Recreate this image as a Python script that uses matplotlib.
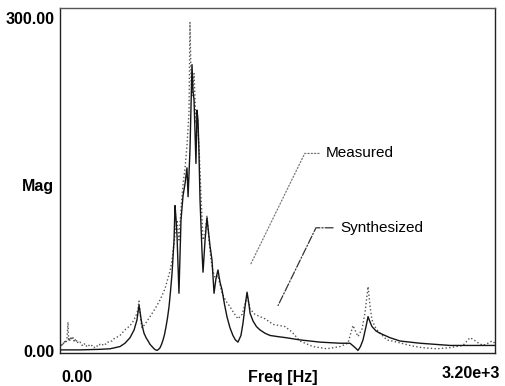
import matplotlib
matplotlib.use("Agg")
import matplotlib.pyplot as plt

plt.rcParams["font.family"] = ["Liberation Sans", "DejaVu Sans"]

# Measured FRF (Hz, magnitude)
meas_freq = [0, 7, 15, 22, 29, 37, 44, 51, 59, 63, 66, 74, 81, 88, 96, 103, 110, 118,
             125, 132, 147, 162, 177, 191, 206, 221, 235, 250, 265, 280, 294, 309,
             324, 338, 353, 368, 383, 397, 412, 427, 441, 463, 486, 508, 530, 552,
             566, 574, 581, 588, 596, 603, 625, 662, 699, 736, 772, 809, 824, 846,
             861, 875, 890, 905, 920, 934, 949, 956, 964, 971, 986, 1000, 1008, 1022,
             1037, 1052, 1067, 1081, 1096, 1111, 1125, 1140, 1162, 1192, 1221, 1250,
             1280, 1309, 1339, 1361, 1376, 1398, 1434, 1471, 1508, 1567, 1655, 1707,
             1765, 1861, 1964, 2060, 2118, 2155, 2177, 2192, 2222, 2244, 2266, 2281,
             2295, 2325, 2354, 2405, 2479, 2575, 2663, 2773, 2869, 2964, 3016, 3045,
             3067, 3111, 3148, 3178, 3200]
meas_mag = [3, 6, 4, 8, 6, 10, 7, 11, 26, 9, 12, 9, 13, 10, 12, 9, 11, 8,
            10, 7, 8, 5, 7, 4, 6, 4, 5, 3, 5, 4, 6, 5,
            7, 6, 8, 9, 9, 11, 12, 13, 14, 17, 20, 22, 25, 30,
            34, 38, 45, 36, 26, 21, 24, 31, 38, 46, 56, 72, 82, 105,
            118, 100, 128, 150, 165, 185, 215, 296, 245, 230, 250, 205, 215, 185,
            140, 100, 105, 122, 100, 82, 72, 66, 68, 52, 45, 40,
            34, 29, 33, 42, 50, 38, 33, 31, 29, 24, 22, 17,
            9, 4, 2, 4, 7, 23, 17, 13, 20, 35, 58, 40,
            28, 20, 16, 10, 8, 5, 3, 2, 3, 5, 12, 10,
            8, 5, 7, 9, 7]

# Synthesized FRF (Hz, magnitude)
syn_freq = [0, 147, 294, 368, 405, 441, 478, 515, 545, 566, 581, 588, 596, 603, 610,
            618, 633, 648, 662, 677, 692, 700, 714, 725, 736, 747, 758, 769, 780,
            791, 802, 813, 824, 839, 846, 853, 861, 875, 890,
            905, 920, 934, 942, 956, 971, 978, 986, 1000, 1008, 1015, 1022, 1030,
            1044, 1052, 1067, 1081, 1103, 1118, 1133, 1147, 1162, 1177, 1192, 1210,
            1228, 1250, 1272, 1290, 1309, 1331, 1346, 1361, 1376, 1390, 1398, 1420,
            1445, 1471, 1508, 1545, 1600, 1662, 1765, 1913, 2060, 2133, 2162, 2180,
            2192, 2210, 2229, 2251, 2266, 2281, 2295, 2325, 2354, 2427, 2501, 2648,
            2869, 3200]
syn_mag = [1, 1, 1.5, 2, 3, 4, 7, 12, 19, 28, 41, 36, 29, 24, 20,
           16, 12, 9, 6, 4, 2, 1.2, 0.5, 1.5, 3, 6, 10, 15, 22,
           30, 40, 54, 70, 100, 131, 120, 103, 52, 118,
           140, 151, 165, 139, 181, 258, 235, 226, 169, 217, 208, 180, 136,
           91, 71, 100, 120, 95, 82, 52, 65, 73, 62, 55, 42,
           31, 21, 14, 10, 8, 14, 25, 40, 53, 42, 34, 27,
           22, 19, 16, 14, 13, 12, 10, 8, 7, 7, 4, 2,
           0.5, 4, 10, 22, 31, 26, 22, 18, 16, 12, 9, 7,
           5, 5]

fig = plt.figure(figsize=(5.06, 3.86), dpi=100)
ax = fig.add_axes([0.1186, 0.0855, 0.8597, 0.8937])

ax.plot(meas_freq, meas_mag, color="#555555", linestyle=":", linewidth=1.0)
ax.plot(syn_freq, syn_mag, color="#151515", linestyle="-", linewidth=1.0)

ax.set_xlim(0, 3200)
ax.set_ylim(-1.8, 309)

ax.set_xticks([])
ax.set_yticks([0, 300])
ax.set_yticklabels(["0.00", "300.00"], fontsize=11.5, fontweight="bold")
ax.tick_params(axis="y", length=0, pad=4)
for s in ax.spines.values():
    s.set_linewidth(1.0)
    s.set_color("#222222")
ax.spines["top"].set_color("#555555")

ax.text(-0.05, 0.484, "Mag", transform=ax.transAxes, ha="center", va="center",
        fontsize=11.5, fontweight="bold")
ax.text(0.039, -0.07, "0.00", transform=ax.transAxes, ha="center", va="center",
        fontsize=11.5, fontweight="bold")
ax.text(0.513, -0.07, "Freq [Hz]", transform=ax.transAxes, ha="center", va="center",
        fontsize=11.5, fontweight="bold")
ax.text(1.011, -0.058, "3.20e+3", transform=ax.transAxes, ha="right", va="center",
        fontsize=11.5, fontweight="bold")

# labels with bent leader lines
ax.annotate("Measured", xy=(1398, 77), xytext=(1957, 178), fontsize=11,
            ha="left", va="center",
            arrowprops=dict(arrowstyle="-", color="#777777", linestyle=":", lw=0.9,
                            shrinkA=3, shrinkB=0,
                            connectionstyle="angle,angleA=0,angleB=64,rad=0"))
ax.annotate("Synthesized", xy=(1604, 41), xytext=(2060, 111), fontsize=11,
            ha="left", va="center",
            arrowprops=dict(arrowstyle="-", color="#333333", linestyle="-.", lw=0.9,
                            shrinkA=3, shrinkB=0,
                            connectionstyle="angle,angleA=0,angleB=64,rad=0"))

fig.savefig("out.png", dpi=100)
